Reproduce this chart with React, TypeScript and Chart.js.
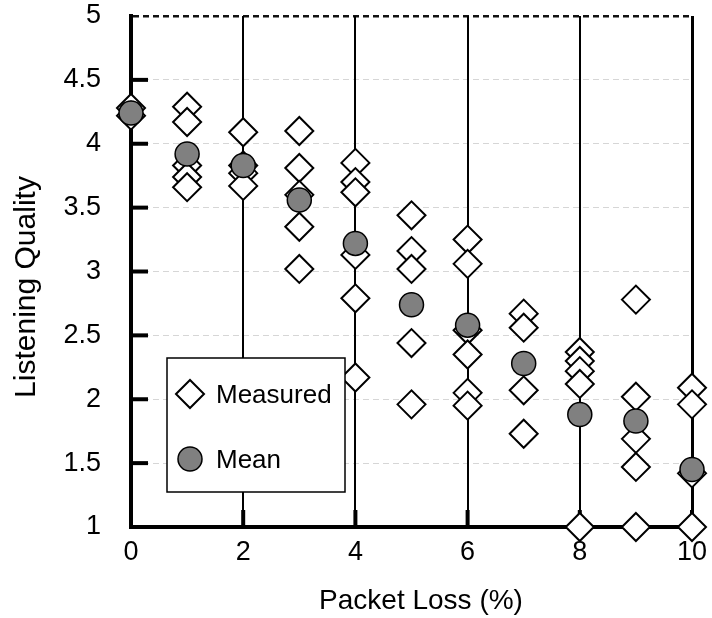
import React, { useEffect, useRef } from 'react';
import { Chart, registerables } from 'chart.js';

Chart.register(...registerables);

// ---- data ----
const lossLevels = [0, 1, 2, 3, 4, 5, 6, 7, 8, 9, 10];
const measuredAt0 = [4.28, 4.22];
const measuredAt1 = [4.29, 4.17, 3.83, 3.74, 3.66];
const measuredAt2 = [4.09, 3.83, 3.77, 3.67];
const measuredAt3 = [4.1, 3.81, 3.6, 3.35, 3.02];
const measuredAt4 = [3.85, 3.7, 3.62, 3.13, 2.79, 2.17];
const measuredAt5 = [3.44, 3.16, 3.02, 2.44, 1.96];
const measuredAt6 = [3.25, 3.06, 2.54, 2.35, 2.05, 1.95];
const measuredAt7 = [2.67, 2.56, 2.07, 1.73];
const measuredAt8 = [2.37, 2.3, 2.22, 2.12, 1.0];
const measuredAt9 = [2.78, 2.02, 1.69, 1.47, 1.0];
const measuredAt10 = [2.09, 1.96, 1.42, 1.0];
const measuredByLevel = [
  measuredAt0, measuredAt1, measuredAt2, measuredAt3, measuredAt4, measuredAt5,
  measuredAt6, measuredAt7, measuredAt8, measuredAt9, measuredAt10,
];
const meanQuality = [4.24, 3.92, 3.83, 3.56, 3.22, 2.74, 2.58, 2.28, 1.88, 1.83, 1.45];
const seriesNames = ['Measured', 'Mean'];
const xTitle = 'Packet Loss (%)';
const yTitle = 'Listening Quality';

const FONT = "'Liberation Sans', Arial, Helvetica, sans-serif";

const measuredPoints = measuredByLevel.flatMap((vals, i) =>
  vals.map((v) => ({ x: lossLevels[i], y: v }))
);
const meanPoints = meanQuality.map((v, i) => ({ x: lossLevels[i], y: v }));

function diamond(ctx: CanvasRenderingContext2D, cx: number, cy: number, r: number) {
  ctx.beginPath();
  ctx.moveTo(cx - r, cy);
  ctx.lineTo(cx, cy - r);
  ctx.lineTo(cx + r, cy);
  ctx.lineTo(cx, cy + r);
  ctx.closePath();
}

const decorPlugin = {
  id: 'decor',
  beforeDatasetsDraw(chart: any) {
    const { ctx, chartArea: a, scales } = chart;
    const x = scales.x;
    const y = scales.y;
    ctx.save();
    ctx.strokeStyle = '#000';
    ctx.lineWidth = 4;
    ctx.lineCap = 'butt';
    y.ticks.forEach((t: any) => {
      if (t.value > y.min && t.value < y.max) {
        const py = y.getPixelForValue(t.value);
        ctx.beginPath();
        ctx.moveTo(a.left, py);
        ctx.lineTo(a.left + 17, py);
        ctx.stroke();
      }
    });
    x.ticks.forEach((t: any) => {
      if (t.value > x.min) {
        const px = x.getPixelForValue(t.value);
        ctx.beginPath();
        ctx.moveTo(px, a.bottom);
        ctx.lineTo(px, a.bottom - 17);
        ctx.stroke();
      }
    });
    ctx.restore();
  },
  afterDraw(chart: any) {
    const { ctx } = chart;
    const ds = chart.data.datasets;
    ctx.save();
    // legend box
    const bx = 167, by = 358, bw = 178, bh = 134;
    ctx.fillStyle = '#fff';
    ctx.fillRect(bx, by, bw, bh);
    ctx.strokeStyle = '#000';
    ctx.lineWidth = 1.5;
    ctx.strokeRect(bx, by, bw, bh);
    // measured item
    diamond(ctx, 190, 394, ds[0].pointRadius);
    ctx.fillStyle = ds[0].backgroundColor;
    ctx.fill();
    ctx.lineWidth = ds[0].borderWidth;
    ctx.strokeStyle = ds[0].borderColor;
    ctx.stroke();
    // mean item
    ctx.beginPath();
    ctx.arc(190, 459, ds[1].pointRadius, 0, Math.PI * 2);
    ctx.fillStyle = ds[1].backgroundColor;
    ctx.fill();
    ctx.lineWidth = ds[1].borderWidth;
    ctx.strokeStyle = ds[1].borderColor;
    ctx.stroke();
    ctx.fillStyle = '#000';
    ctx.font = `26px ${FONT}`;
    ctx.textAlign = 'left';
    ctx.textBaseline = 'alphabetic';
    ctx.fillText(ds[0].label, 216, 403);
    ctx.fillText(ds[1].label, 216, 468);
    // axis titles
    ctx.font = `28px ${FONT}`;
    ctx.textAlign = 'center';
    ctx.fillText(xTitle, 421, 609);
    ctx.translate(35, 287);
    ctx.rotate(-Math.PI / 2);
    ctx.font = `30px ${FONT}`;
    ctx.fillText(yTitle, 0, 0);
    ctx.restore();
  },
};

export default function App() {
  const ref = useRef<HTMLCanvasElement>(null);
  useEffect(() => {
    const chart = new Chart(ref.current as HTMLCanvasElement, {
      type: 'scatter',
      data: {
        datasets: [
          {
            label: seriesNames[0],
            data: measuredPoints,
            pointStyle: 'rectRot',
            pointRadius: 14,
            backgroundColor: '#ffffff',
            borderColor: '#000000',
            borderWidth: 2,
            order: 2,
            clip: false,
          } as any,
          {
            label: seriesNames[1],
            data: meanPoints,
            pointStyle: 'circle',
            pointRadius: 12,
            backgroundColor: '#808080',
            borderColor: '#000000',
            borderWidth: 1.5,
            order: 1,
            clip: false,
          } as any,
        ],
      },
      options: {
        responsive: false,
        animation: false,
        events: [],
        layout: { padding: { top: 13, right: 20, left: 0, bottom: 0 } },
        plugins: {
          legend: { display: false },
          tooltip: { enabled: false },
        },
        scales: {
          x: {
            type: 'linear',
            min: 0,
            max: 10,
            ticks: {
              stepSize: 2,
              color: '#000',
              font: { family: FONT, size: 27 },
              padding: 9,
              callback: (v: any) => String(Number(v)),
            },
            grid: {
              drawTicks: false,
              z: -1,
              color: (c: any) => (c.tick && c.tick.value === 0 ? 'rgba(0,0,0,0)' : '#000'),
              lineWidth: (c: any) => (c.tick && c.tick.value === 10 ? 3 : 2),
            },
            border: { display: true, color: '#000', width: 4 },
            afterFit: (s: any) => {
              s.height = 91;
              s.paddingLeft = 0;
              s.paddingRight = 0;
            },
          },
          y: {
            type: 'linear',
            min: 1,
            max: 5,
            ticks: {
              stepSize: 0.5,
              color: '#000',
              font: { family: FONT, size: 27 },
              padding: 30,
              callback: (v: any) => String(Number(v)),
            },
            grid: {
              drawTicks: false,
              z: -2,
              color: (c: any) => (c.tick && c.tick.value === 5 ? '#111' : '#d6d6d6'),
              lineWidth: (c: any) => (c.tick && c.tick.value === 5 ? 2.5 : 1),
            },
            border: { display: true, color: '#000', width: 4, dash: [6, 4] },
            afterFit: (s: any) => {
              s.width = 131;
              s.paddingTop = 0;
              s.paddingBottom = 0;
            },
          },
        },
      } as any,
      plugins: [decorPlugin],
    });
    return () => chart.destroy();
  }, []);
  return (
    <div style={{ position: 'absolute', left: 0, top: 0, width: 712, height: 618, background: '#fff' }}>
      <canvas ref={ref} width={712} height={618} style={{ display: 'block', width: 712, height: 618 }} />
    </div>
  );
}
